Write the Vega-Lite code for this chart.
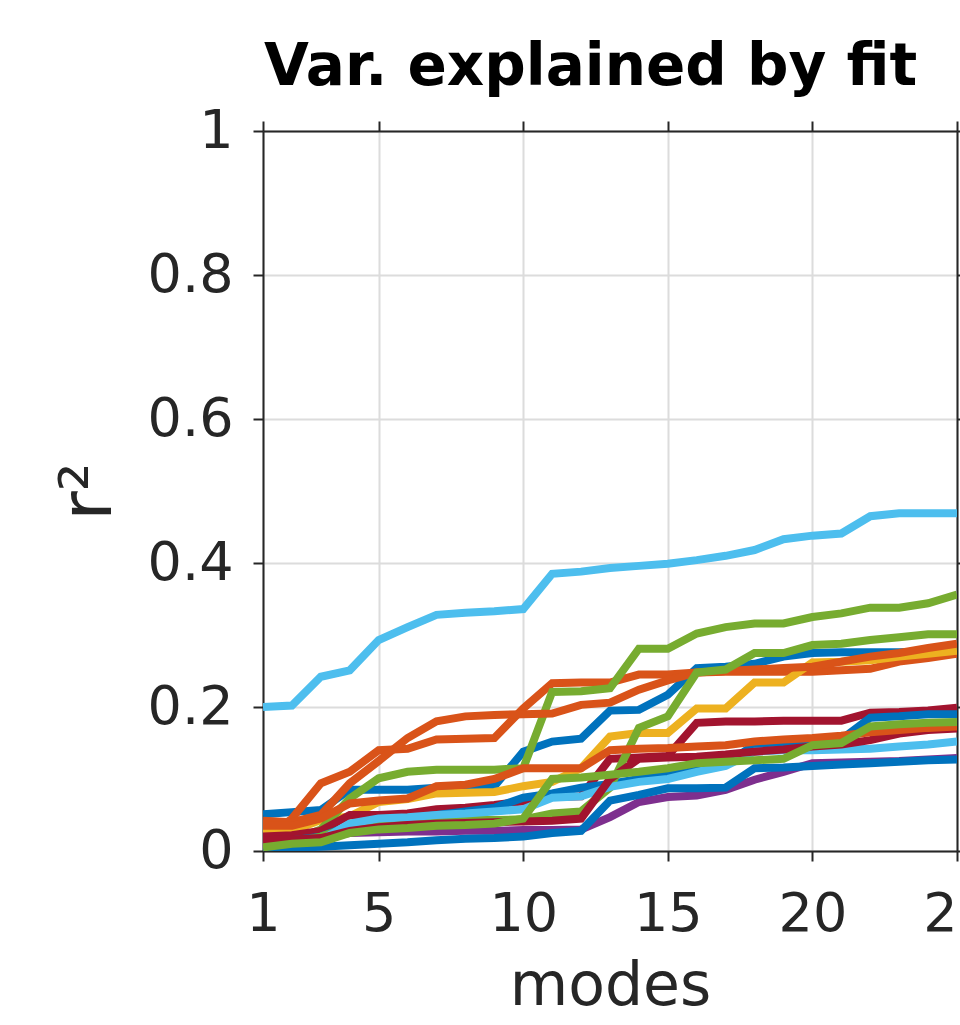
{
"$schema": "https://vega.github.io/schema/vega-lite/v6.json",
"width": 694,
"height": 720,
"autosize": {"type": "none"},
"padding": {"left": 263, "top": 131, "right": 3, "bottom": 174},
"background": "white",
"title": {"text": "Var. explained by fit", "anchor": "start", "font": "DejaVu Sans", "fontSize": 58, "fontWeight": "bold", "color": "#000000", "baseline": "alphabetic", "offset": 40, "dx": 212, "dy": 79},
"config": {"view": {"stroke": null}},
"datasets": {
"series": [
{"s":"L1","n":1,"v":0.200},{"s":"L1","n":2,"v":0.202},{"s":"L1","n":3,"v":0.242},{"s":"L1","n":4,"v":0.251},{"s":"L1","n":5,"v":0.293},{"s":"L1","n":6,"v":0.311},{"s":"L1","n":7,"v":0.328},{"s":"L1","n":8,"v":0.331},{"s":"L1","n":9,"v":0.333},{"s":"L1","n":10,"v":0.336},{"s":"L1","n":11,"v":0.385},{"s":"L1","n":12,"v":0.388},{"s":"L1","n":13,"v":0.393},{"s":"L1","n":14,"v":0.396},{"s":"L1","n":15,"v":0.399},{"s":"L1","n":16,"v":0.404},{"s":"L1","n":17,"v":0.410},{"s":"L1","n":18,"v":0.418},{"s":"L1","n":19,"v":0.433},{"s":"L1","n":20,"v":0.438},{"s":"L1","n":21,"v":0.441},{"s":"L1","n":22,"v":0.465},{"s":"L1","n":23,"v":0.469},{"s":"L1","n":24,"v":0.469},{"s":"L1","n":25,"v":0.469},
{"s":"B1","n":1,"v":0.051},{"s":"B1","n":2,"v":0.054},{"s":"B1","n":3,"v":0.057},{"s":"B1","n":4,"v":0.085},{"s":"B1","n":5,"v":0.085},{"s":"B1","n":6,"v":0.085},{"s":"B1","n":7,"v":0.088},{"s":"B1","n":8,"v":0.09},{"s":"B1","n":9,"v":0.09},{"s":"B1","n":10,"v":0.138},{"s":"B1","n":11,"v":0.152},{"s":"B1","n":12,"v":0.156},{"s":"B1","n":13,"v":0.195},{"s":"B1","n":14,"v":0.196},{"s":"B1","n":15,"v":0.217},{"s":"B1","n":16,"v":0.254},{"s":"B1","n":17,"v":0.256},{"s":"B1","n":18,"v":0.26},{"s":"B1","n":19,"v":0.27},{"s":"B1","n":20,"v":0.275},{"s":"B1","n":21,"v":0.276},{"s":"B1","n":22,"v":0.276},{"s":"B1","n":23,"v":0.276},{"s":"B1","n":24,"v":0.277},{"s":"B1","n":25,"v":0.277},
{"s":"O1","n":1,"v":0.015},{"s":"O1","n":2,"v":0.045},{"s":"O1","n":3,"v":0.094},{"s":"O1","n":4,"v":0.11},{"s":"O1","n":5,"v":0.14},{"s":"O1","n":6,"v":0.142},{"s":"O1","n":7,"v":0.155},{"s":"O1","n":8,"v":0.156},{"s":"O1","n":9,"v":0.157},{"s":"O1","n":10,"v":0.198},{"s":"O1","n":11,"v":0.233},{"s":"O1","n":12,"v":0.234},{"s":"O1","n":13,"v":0.234},{"s":"O1","n":14,"v":0.245},{"s":"O1","n":15,"v":0.245},{"s":"O1","n":16,"v":0.248},{"s":"O1","n":17,"v":0.249},{"s":"O1","n":18,"v":0.249},{"s":"O1","n":19,"v":0.249},{"s":"O1","n":20,"v":0.249},{"s":"O1","n":21,"v":0.251},{"s":"O1","n":22,"v":0.253},{"s":"O1","n":23,"v":0.263},{"s":"O1","n":24,"v":0.268},{"s":"O1","n":25,"v":0.274},
{"s":"Y","n":1,"v":0.027},{"s":"Y","n":2,"v":0.028},{"s":"Y","n":3,"v":0.043},{"s":"Y","n":4,"v":0.048},{"s":"Y","n":5,"v":0.068},{"s":"Y","n":6,"v":0.072},{"s":"Y","n":7,"v":0.08},{"s":"Y","n":8,"v":0.081},{"s":"Y","n":9,"v":0.082},{"s":"Y","n":10,"v":0.09},{"s":"Y","n":11,"v":0.096},{"s":"Y","n":12,"v":0.115},{"s":"Y","n":13,"v":0.159},{"s":"Y","n":14,"v":0.164},{"s":"Y","n":15,"v":0.164},{"s":"Y","n":16,"v":0.198},{"s":"Y","n":17,"v":0.198},{"s":"Y","n":18,"v":0.234},{"s":"Y","n":19,"v":0.234},{"s":"Y","n":20,"v":0.262},{"s":"Y","n":21,"v":0.263},{"s":"Y","n":22,"v":0.265},{"s":"Y","n":23,"v":0.27},{"s":"Y","n":24,"v":0.274},{"s":"Y","n":25,"v":0.278},
{"s":"P","n":1,"v":0.018},{"s":"P","n":2,"v":0.018},{"s":"P","n":3,"v":0.019},{"s":"P","n":4,"v":0.025},{"s":"P","n":5,"v":0.026},{"s":"P","n":6,"v":0.027},{"s":"P","n":7,"v":0.027},{"s":"P","n":8,"v":0.028},{"s":"P","n":9,"v":0.028},{"s":"P","n":10,"v":0.029},{"s":"P","n":11,"v":0.029},{"s":"P","n":12,"v":0.03},{"s":"P","n":13,"v":0.047},{"s":"P","n":14,"v":0.068},{"s":"P","n":15,"v":0.075},{"s":"P","n":16,"v":0.077},{"s":"P","n":17,"v":0.085},{"s":"P","n":18,"v":0.099},{"s":"P","n":19,"v":0.11},{"s":"P","n":20,"v":0.122},{"s":"P","n":21,"v":0.123},{"s":"P","n":22,"v":0.124},{"s":"P","n":23,"v":0.125},{"s":"P","n":24,"v":0.127},{"s":"P","n":25,"v":0.129},
{"s":"G1","n":1,"v":0.008},{"s":"G1","n":2,"v":0.015},{"s":"G1","n":3,"v":0.03},{"s":"G1","n":4,"v":0.073},{"s":"G1","n":5,"v":0.101},{"s":"G1","n":6,"v":0.11},{"s":"G1","n":7,"v":0.113},{"s":"G1","n":8,"v":0.113},{"s":"G1","n":9,"v":0.113},{"s":"G1","n":10,"v":0.115},{"s":"G1","n":11,"v":0.221},{"s":"G1","n":12,"v":0.222},{"s":"G1","n":13,"v":0.226},{"s":"G1","n":14,"v":0.281},{"s":"G1","n":15,"v":0.281},{"s":"G1","n":16,"v":0.302},{"s":"G1","n":17,"v":0.311},{"s":"G1","n":18,"v":0.316},{"s":"G1","n":19,"v":0.316},{"s":"G1","n":20,"v":0.325},{"s":"G1","n":21,"v":0.33},{"s":"G1","n":22,"v":0.338},{"s":"G1","n":23,"v":0.338},{"s":"G1","n":24,"v":0.344},{"s":"G1","n":25,"v":0.356},
{"s":"R1","n":1,"v":0.02},{"s":"R1","n":2,"v":0.022},{"s":"R1","n":3,"v":0.028},{"s":"R1","n":4,"v":0.05},{"s":"R1","n":5,"v":0.05},{"s":"R1","n":6,"v":0.052},{"s":"R1","n":7,"v":0.058},{"s":"R1","n":8,"v":0.06},{"s":"R1","n":9,"v":0.064},{"s":"R1","n":10,"v":0.069},{"s":"R1","n":11,"v":0.075},{"s":"R1","n":12,"v":0.076},{"s":"R1","n":13,"v":0.128},{"s":"R1","n":14,"v":0.13},{"s":"R1","n":15,"v":0.132},{"s":"R1","n":16,"v":0.178},{"s":"R1","n":17,"v":0.18},{"s":"R1","n":18,"v":0.18},{"s":"R1","n":19,"v":0.181},{"s":"R1","n":20,"v":0.181},{"s":"R1","n":21,"v":0.181},{"s":"R1","n":22,"v":0.192},{"s":"R1","n":23,"v":0.193},{"s":"R1","n":24,"v":0.195},{"s":"R1","n":25,"v":0.199},
{"s":"B2","n":1,"v":0.012},{"s":"B2","n":2,"v":0.015},{"s":"B2","n":3,"v":0.02},{"s":"B2","n":4,"v":0.035},{"s":"B2","n":5,"v":0.04},{"s":"B2","n":6,"v":0.045},{"s":"B2","n":7,"v":0.05},{"s":"B2","n":8,"v":0.055},{"s":"B2","n":9,"v":0.06},{"s":"B2","n":10,"v":0.074},{"s":"B2","n":11,"v":0.08},{"s":"B2","n":12,"v":0.088},{"s":"B2","n":13,"v":0.093},{"s":"B2","n":14,"v":0.1},{"s":"B2","n":15,"v":0.105},{"s":"B2","n":16,"v":0.113},{"s":"B2","n":17,"v":0.12},{"s":"B2","n":18,"v":0.148},{"s":"B2","n":19,"v":0.15},{"s":"B2","n":20,"v":0.152},{"s":"B2","n":21,"v":0.155},{"s":"B2","n":22,"v":0.185},{"s":"B2","n":23,"v":0.187},{"s":"B2","n":24,"v":0.19},{"s":"B2","n":25,"v":0.19},
{"s":"O2","n":1,"v":0.042},{"s":"O2","n":2,"v":0.04},{"s":"O2","n":3,"v":0.05},{"s":"O2","n":4,"v":0.094},{"s":"O2","n":5,"v":0.125},{"s":"O2","n":6,"v":0.157},{"s":"O2","n":7,"v":0.18},{"s":"O2","n":8,"v":0.187},{"s":"O2","n":9,"v":0.189},{"s":"O2","n":10,"v":0.19},{"s":"O2","n":11,"v":0.191},{"s":"O2","n":12,"v":0.203},{"s":"O2","n":13,"v":0.206},{"s":"O2","n":14,"v":0.224},{"s":"O2","n":15,"v":0.237},{"s":"O2","n":16,"v":0.248},{"s":"O2","n":17,"v":0.25},{"s":"O2","n":18,"v":0.252},{"s":"O2","n":19,"v":0.254},{"s":"O2","n":20,"v":0.256},{"s":"O2","n":21,"v":0.263},{"s":"O2","n":22,"v":0.27},{"s":"O2","n":23,"v":0.275},{"s":"O2","n":24,"v":0.282},{"s":"O2","n":25,"v":0.288},
{"s":"G2","n":1,"v":0.008},{"s":"G2","n":2,"v":0.012},{"s":"G2","n":3,"v":0.02},{"s":"G2","n":4,"v":0.033},{"s":"G2","n":5,"v":0.037},{"s":"G2","n":6,"v":0.04},{"s":"G2","n":7,"v":0.042},{"s":"G2","n":8,"v":0.043},{"s":"G2","n":9,"v":0.043},{"s":"G2","n":10,"v":0.044},{"s":"G2","n":11,"v":0.052},{"s":"G2","n":12,"v":0.055},{"s":"G2","n":13,"v":0.088},{"s":"G2","n":14,"v":0.171},{"s":"G2","n":15,"v":0.187},{"s":"G2","n":16,"v":0.248},{"s":"G2","n":17,"v":0.252},{"s":"G2","n":18,"v":0.275},{"s":"G2","n":19,"v":0.275},{"s":"G2","n":20,"v":0.286},{"s":"G2","n":21,"v":0.288},{"s":"G2","n":22,"v":0.293},{"s":"G2","n":23,"v":0.297},{"s":"G2","n":24,"v":0.301},{"s":"G2","n":25,"v":0.301},
{"s":"L2","n":1,"v":0.008},{"s":"L2","n":2,"v":0.01},{"s":"L2","n":3,"v":0.015},{"s":"L2","n":4,"v":0.038},{"s":"L2","n":5,"v":0.045},{"s":"L2","n":6,"v":0.047},{"s":"L2","n":7,"v":0.05},{"s":"L2","n":8,"v":0.052},{"s":"L2","n":9,"v":0.055},{"s":"L2","n":10,"v":0.058},{"s":"L2","n":11,"v":0.074},{"s":"L2","n":12,"v":0.076},{"s":"L2","n":13,"v":0.089},{"s":"L2","n":14,"v":0.096},{"s":"L2","n":15,"v":0.1},{"s":"L2","n":16,"v":0.11},{"s":"L2","n":17,"v":0.118},{"s":"L2","n":18,"v":0.138},{"s":"L2","n":19,"v":0.14},{"s":"L2","n":20,"v":0.14},{"s":"L2","n":21,"v":0.141},{"s":"L2","n":22,"v":0.142},{"s":"L2","n":23,"v":0.145},{"s":"L2","n":24,"v":0.148},{"s":"L2","n":25,"v":0.152},
{"s":"R2","n":1,"v":0.015},{"s":"R2","n":2,"v":0.016},{"s":"R2","n":3,"v":0.018},{"s":"R2","n":4,"v":0.028},{"s":"R2","n":5,"v":0.033},{"s":"R2","n":6,"v":0.036},{"s":"R2","n":7,"v":0.038},{"s":"R2","n":8,"v":0.039},{"s":"R2","n":9,"v":0.04},{"s":"R2","n":10,"v":0.041},{"s":"R2","n":11,"v":0.042},{"s":"R2","n":12,"v":0.045},{"s":"R2","n":13,"v":0.1},{"s":"R2","n":14,"v":0.128},{"s":"R2","n":15,"v":0.13},{"s":"R2","n":16,"v":0.131},{"s":"R2","n":17,"v":0.134},{"s":"R2","n":18,"v":0.138},{"s":"R2","n":19,"v":0.141},{"s":"R2","n":20,"v":0.145},{"s":"R2","n":21,"v":0.148},{"s":"R2","n":22,"v":0.154},{"s":"R2","n":23,"v":0.163},{"s":"R2","n":24,"v":0.168},{"s":"R2","n":25,"v":0.17},
{"s":"B3","n":1,"v":0.003},{"s":"B3","n":2,"v":0.004},{"s":"B3","n":3,"v":0.006},{"s":"B3","n":4,"v":0.008},{"s":"B3","n":5,"v":0.01},{"s":"B3","n":6,"v":0.012},{"s":"B3","n":7,"v":0.015},{"s":"B3","n":8,"v":0.017},{"s":"B3","n":9,"v":0.018},{"s":"B3","n":10,"v":0.02},{"s":"B3","n":11,"v":0.025},{"s":"B3","n":12,"v":0.028},{"s":"B3","n":13,"v":0.07},{"s":"B3","n":14,"v":0.078},{"s":"B3","n":15,"v":0.087},{"s":"B3","n":16,"v":0.087},{"s":"B3","n":17,"v":0.088},{"s":"B3","n":18,"v":0.115},{"s":"B3","n":19,"v":0.116},{"s":"B3","n":20,"v":0.118},{"s":"B3","n":21,"v":0.12},{"s":"B3","n":22,"v":0.122},{"s":"B3","n":23,"v":0.124},{"s":"B3","n":24,"v":0.126},{"s":"B3","n":25,"v":0.127},
{"s":"O3","n":1,"v":0.035},{"s":"O3","n":2,"v":0.035},{"s":"O3","n":3,"v":0.045},{"s":"O3","n":4,"v":0.066},{"s":"O3","n":5,"v":0.07},{"s":"O3","n":6,"v":0.073},{"s":"O3","n":7,"v":0.09},{"s":"O3","n":8,"v":0.092},{"s":"O3","n":9,"v":0.1},{"s":"O3","n":10,"v":0.115},{"s":"O3","n":11,"v":0.115},{"s":"O3","n":12,"v":0.115},{"s":"O3","n":13,"v":0.14},{"s":"O3","n":14,"v":0.142},{"s":"O3","n":15,"v":0.143},{"s":"O3","n":16,"v":0.145},{"s":"O3","n":17,"v":0.147},{"s":"O3","n":18,"v":0.152},{"s":"O3","n":19,"v":0.155},{"s":"O3","n":20,"v":0.157},{"s":"O3","n":21,"v":0.16},{"s":"O3","n":22,"v":0.165},{"s":"O3","n":23,"v":0.168},{"s":"O3","n":24,"v":0.171},{"s":"O3","n":25,"v":0.173},
{"s":"G3","n":1,"v":0.005},{"s":"G3","n":2,"v":0.01},{"s":"G3","n":3,"v":0.012},{"s":"G3","n":4,"v":0.025},{"s":"G3","n":5,"v":0.03},{"s":"G3","n":6,"v":0.032},{"s":"G3","n":7,"v":0.035},{"s":"G3","n":8,"v":0.036},{"s":"G3","n":9,"v":0.038},{"s":"G3","n":10,"v":0.045},{"s":"G3","n":11,"v":0.1},{"s":"G3","n":12,"v":0.102},{"s":"G3","n":13,"v":0.106},{"s":"G3","n":14,"v":0.11},{"s":"G3","n":15,"v":0.115},{"s":"G3","n":16,"v":0.122},{"s":"G3","n":17,"v":0.124},{"s":"G3","n":18,"v":0.126},{"s":"G3","n":19,"v":0.128},{"s":"G3","n":20,"v":0.147},{"s":"G3","n":21,"v":0.15},{"s":"G3","n":22,"v":0.173},{"s":"G3","n":23,"v":0.176},{"s":"G3","n":24,"v":0.178},{"s":"G3","n":25,"v":0.179}
]
},
"data": {"name": "series"},
"layer": [
{
"mark": {"type": "line", "strokeWidth": 8, "clip": true},
"encoding": {
"x": {"field": "n", "type": "quantitative", "scale": {"domain": [1, 25], "nice": false, "zero": false},
"axis": {"orient": "bottom", "values": [1, 5, 10, 15, 20, 25], "format": "d", "labelFlush": false, "labelOverlap": false, "labelBound": false,
"labelFont": "DejaVu Sans", "labelFontSize": 54, "labelColor": "#262626", "labelPadding": 26,
"tickSize": 10, "tickWidth": 2, "tickColor": "#262626", "domainColor": "#262626", "domainWidth": 2,
"grid": true, "gridColor": "#dcdcdc", "gridWidth": 2,
"title": "modes", "titleFont": "DejaVu Sans", "titleFontSize": 60, "titleFontWeight": "normal", "titleColor": "#262626", "titlePadding": 16}},
"y": {"field": "v", "type": "quantitative", "scale": {"domain": [0, 1], "nice": false},
"axis": {"orient": "left", "values": [0, 0.2, 0.4, 0.6, 0.8, 1], "format": "~g", "labelOverlap": false, "labelBound": false, "labelFlush": false,
"labelFont": "DejaVu Sans", "labelFontSize": 54, "labelColor": "#262626", "labelPadding": 20,
"tickSize": 10, "tickWidth": 2, "tickColor": "#262626", "domainColor": "#262626", "domainWidth": 2,
"grid": true, "gridColor": "#dcdcdc", "gridWidth": 2,
"title": "r²", "titleFont": "DejaVu Sans", "titleFontSize": 72, "titleFontWeight": "normal", "titleColor": "#262626", "titlePadding": 22}},
"color": {"field": "s", "type": "nominal", "legend": null,
"scale": {"domain": ["L1","B1","O1","Y","P","G1","R1","B2","O2","G2","L2","R2","B3","O3","G3"],
"range": ["#4DBEEE","#0072BD","#D95319","#EDB120","#7E2F8E","#77AC30","#A2142F","#0072BD","#D95319","#77AC30","#4DBEEE","#A2142F","#0072BD","#D95319","#77AC30"]}}
}
},
{
"mark": {"type": "point", "opacity": 0},
"encoding": {
"x": {"field": "n", "type": "quantitative",
"axis": {"orient": "top", "values": [1, 5, 10, 15, 20, 25], "labels": false, "grid": false, "title": null,
"tickSize": 10, "tickWidth": 2, "tickColor": "#262626", "domainColor": "#262626", "domainWidth": 2}},
"y": {"field": "v", "type": "quantitative",
"axis": {"orient": "right", "values": [0, 0.2, 0.4, 0.6, 0.8, 1], "labels": false, "grid": false, "title": null,
"tickSize": 10, "tickWidth": 2, "tickColor": "#262626", "domainColor": "#262626", "domainWidth": 2}}
}
}
],
"resolve": {"axis": {"x": "independent", "y": "independent"}}
}
